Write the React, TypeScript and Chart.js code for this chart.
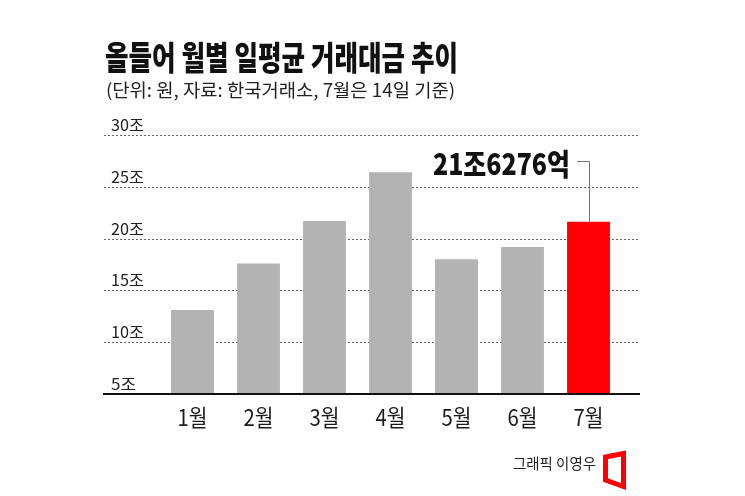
import React, { useEffect, useRef } from "react";
import { Chart, registerables } from "chart.js";

Chart.register(...registerables);

const TITLE = "올들어 월별 일평균 거래대금 추이";
const SUBTITLE = "(단위: 원, 자료: 한국거래소, 7월은 14일 기준)";
const CATEGORIES = ["1월", "2월", "3월", "4월", "5월", "6월", "7월"];
const VALUES = [13.1, 17.6, 21.7, 26.4, 18.0, 19.2, 21.63];
const Y_TICKS = [5, 10, 15, 20, 25, 30];
const Y_TICK_LABELS = ["5조", "10조", "15조", "20조", "25조", "30조"];
const ANNOTATION = "21조6276억";
const CREDIT = "그래픽 이영우";

const FONT = '"Noto Sans CJK KR", "Noto Sans", sans-serif';

function fitText(ctx: CanvasRenderingContext2D, text: string, x: number, y: number, width: number, align: "left" | "right" | "center") {
  const w = ctx.measureText(text).width;
  const s = width / w;
  ctx.save();
  let ox = x;
  if (align === "right") ox = x - width;
  if (align === "center") ox = x - width / 2;
  ctx.translate(ox, y);
  ctx.scale(s, 1);
  ctx.textAlign = "left";
  ctx.fillText(text, 0, 0);
  ctx.restore();
}

const decorPlugin = {
  id: "decor",
  beforeDatasetsDraw(chart: any) {
    const ctx: CanvasRenderingContext2D = chart.ctx;
    const y = chart.scales.y;
    ctx.save();
    // dotted gridlines
    ctx.strokeStyle = "#666";
    ctx.lineWidth = 1;
    ctx.setLineDash([2, 2]);
    Y_TICKS.forEach((v) => {
      if (v === 5) return;
      const py = Math.round(y.getPixelForValue(v)) + 0.5;
      ctx.beginPath();
      ctx.moveTo(104, py);
      ctx.lineTo(639, py);
      ctx.stroke();
    });
    ctx.setLineDash([]);
    // tick labels
    ctx.fillStyle = "#222";
    ctx.font = `400 16px ${FONT}`;
    ctx.textBaseline = "alphabetic";
    Y_TICKS.forEach((v, i) => {
      const py = y.getPixelForValue(v);
      const label = Y_TICK_LABELS[i];
      const w = label.length === 2 ? 25 : 33;
      fitText(ctx, label, 111, py - 4, w, "left");
    });
    ctx.restore();
  },
  afterDatasetsDraw(chart: any) {
    const ctx: CanvasRenderingContext2D = chart.ctx;
    const x = chart.scales.x;
    const y = chart.scales.y;
    ctx.save();
    // baseline
    ctx.strokeStyle = "#111";
    ctx.lineWidth = 2;
    const by = y.getPixelForValue(5);
    ctx.beginPath();
    ctx.moveTo(103, by);
    ctx.lineTo(640, by);
    ctx.stroke();

    // x labels
    ctx.fillStyle = "#1a1a1a";
    ctx.font = `400 23px ${FONT}`;
    ctx.textBaseline = "alphabetic";
    CATEGORIES.forEach((c, i) => {
      const px = x.getPixelForValue(i);
      fitText(ctx, c, px, 426, 30, "center");
    });

    // title
    ctx.fillStyle = "#111";
    ctx.font = `900 33px ${FONT}`;
    fitText(ctx, TITLE, 105, 70, 353, "left");
    ctx.fillStyle = "#222";
    ctx.font = `400 18px ${FONT}`;
    fitText(ctx, SUBTITLE, 106, 97, 349, "left");

    // annotation
    const last = VALUES.length - 1;
    const lx = Math.round(x.getPixelForValue(last)) + 0.5;
    const ly = y.getPixelForValue(VALUES[last]);
    ctx.strokeStyle = "#777";
    ctx.lineWidth = 1;
    ctx.beginPath();
    ctx.moveTo(577, 161.5);
    ctx.lineTo(lx, 161.5);
    ctx.lineTo(lx, ly);
    ctx.stroke();
    ctx.fillStyle = "#111";
    ctx.font = `900 30px ${FONT}`;
    fitText(ctx, ANNOTATION, 570, 175, 137, "right");

    // credit
    ctx.fillStyle = "#222";
    ctx.font = `400 15px ${FONT}`;
    fitText(ctx, CREDIT, 513, 469, 83, "left");

    // logo
    ctx.strokeStyle = "#ff0000";
    ctx.lineWidth = 5;
    ctx.lineJoin = "miter";
    ctx.beginPath();
    ctx.moveTo(605.5, 457);
    ctx.lineTo(623.5, 453.5);
    ctx.lineTo(623.5, 486.5);
    ctx.lineTo(605.5, 480);
    ctx.closePath();
    ctx.stroke();
    ctx.restore();
  },
};

export default function App() {
  const ref = useRef<HTMLCanvasElement>(null);
  useEffect(() => {
    if (!ref.current) return;
    const chart = new Chart(ref.current, {
      type: "bar",
      data: {
        labels: CATEGORIES,
        datasets: [
          {
            data: VALUES,
            backgroundColor: VALUES.map((_, i) => (i === VALUES.length - 1 ? "#ff0000" : "#b3b3b3")),
            borderWidth: 0,
            barPercentage: 0.65,
            categoryPercentage: 1,
          },
        ],
      },
      options: {
        responsive: false,
        animation: false,
        events: [],
        layout: { padding: { left: 159.5, right: 123.5, top: 135, bottom: 102 } },
        plugins: { legend: { display: false }, tooltip: { enabled: false }, title: { display: false } },
        scales: {
          x: { display: false, offset: true },
          y: { display: false, min: 5, max: 30 },
        },
      },
      plugins: [decorPlugin],
    });
    return () => chart.destroy();
  }, []);
  return (
    <canvas
      ref={ref}
      width={745}
      height={496}
      style={{ position: "absolute", left: 0, top: 0, width: 745, height: 496, background: "#fff" }}
    />
  );
}
